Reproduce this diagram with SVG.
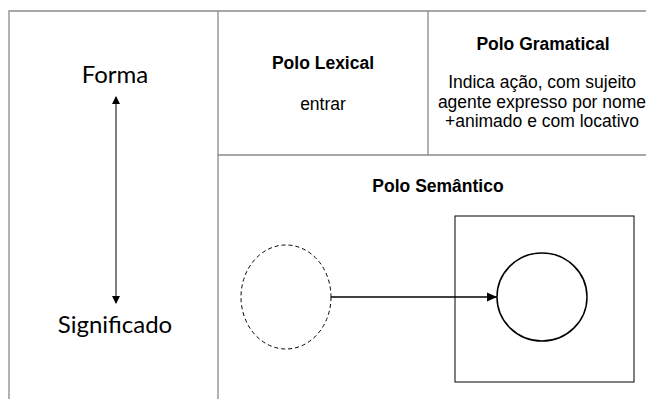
<svg xmlns="http://www.w3.org/2000/svg" width="646" height="399" viewBox="0 0 646 399">
<style>
.grid{stroke:#8a8a8a;stroke-width:1.3;fill:none}
.side{font-family:Lato,"Open Sans",sans-serif;font-size:24px;fill:#000;text-anchor:middle}
.head{font-family:"Liberation Sans",Arial,sans-serif;font-size:17.5px;font-weight:bold;fill:#000;text-anchor:middle}
.body{font-family:"Liberation Sans",Arial,sans-serif;font-size:17.5px;fill:#000;text-anchor:middle}
.line{stroke:#000;fill:none}
</style>
<defs>
<marker id="ah" markerWidth="8" markerHeight="8" refX="7" refY="4" orient="auto" markerUnits="userSpaceOnUse">
<path d="M0,0 L8,4 L0,8 Z" fill="#000"/>
</marker>
<marker id="ahs" markerWidth="10" markerHeight="10" refX="10" refY="5" orient="auto" markerUnits="userSpaceOnUse">
<path d="M0,0.5 L10,5 L0,9.5 Z" fill="#000"/>
</marker>
</defs>
<rect width="646" height="399" fill="#fff"/>
<g id="table">
<path class="grid" d="M9,399 V11 H646 M218,11 V399 M428,11 V155 M218,155 H646"/>
</g>
<g id="forma"><text class="side" x="115" y="83">Forma</text></g>
<g id="significado"><text class="side" x="115" y="333">Significado</text></g>
<g id="polo-lexical">
<text class="head" x="323" y="69">Polo Lexical</text>
<text class="body" x="323" y="110">entrar</text>
</g>
<g id="polo-gramatical">
<text class="head" x="543" y="50">Polo Gramatical</text>
<text class="body" x="542" y="88">Indica ação, com sujeito</text>
<text class="body" x="542" y="108">agente expresso por nome</text>
<text class="body" x="542" y="127">+animado e com locativo</text>
</g>
<g id="polo-semantico">
<text class="head" x="438" y="192">Polo Semântico</text>
</g>
<g id="frame"><rect x="455" y="216" width="179" height="166" fill="none" stroke="#000" stroke-width="1"/></g>
<g id="dashed-circle"><ellipse cx="286" cy="297" rx="45" ry="52" fill="none" stroke="#000" stroke-width="1" stroke-dasharray="4,3"/></g>
<g id="solid-circle"><ellipse cx="542" cy="297" rx="45" ry="44" fill="none" stroke="#000" stroke-width="1.5"/></g>
<g id="connectors">
<line class="line" x1="116" y1="104" x2="116" y2="97" marker-end="url(#ah)"/>
<line class="line" x1="116" y1="104" x2="116" y2="303" marker-end="url(#ah)" stroke-width="1"/>
<line class="line" x1="331" y1="297" x2="497" y2="297" stroke-width="1.5" marker-end="url(#ahs)"/>
</g>
</svg>
